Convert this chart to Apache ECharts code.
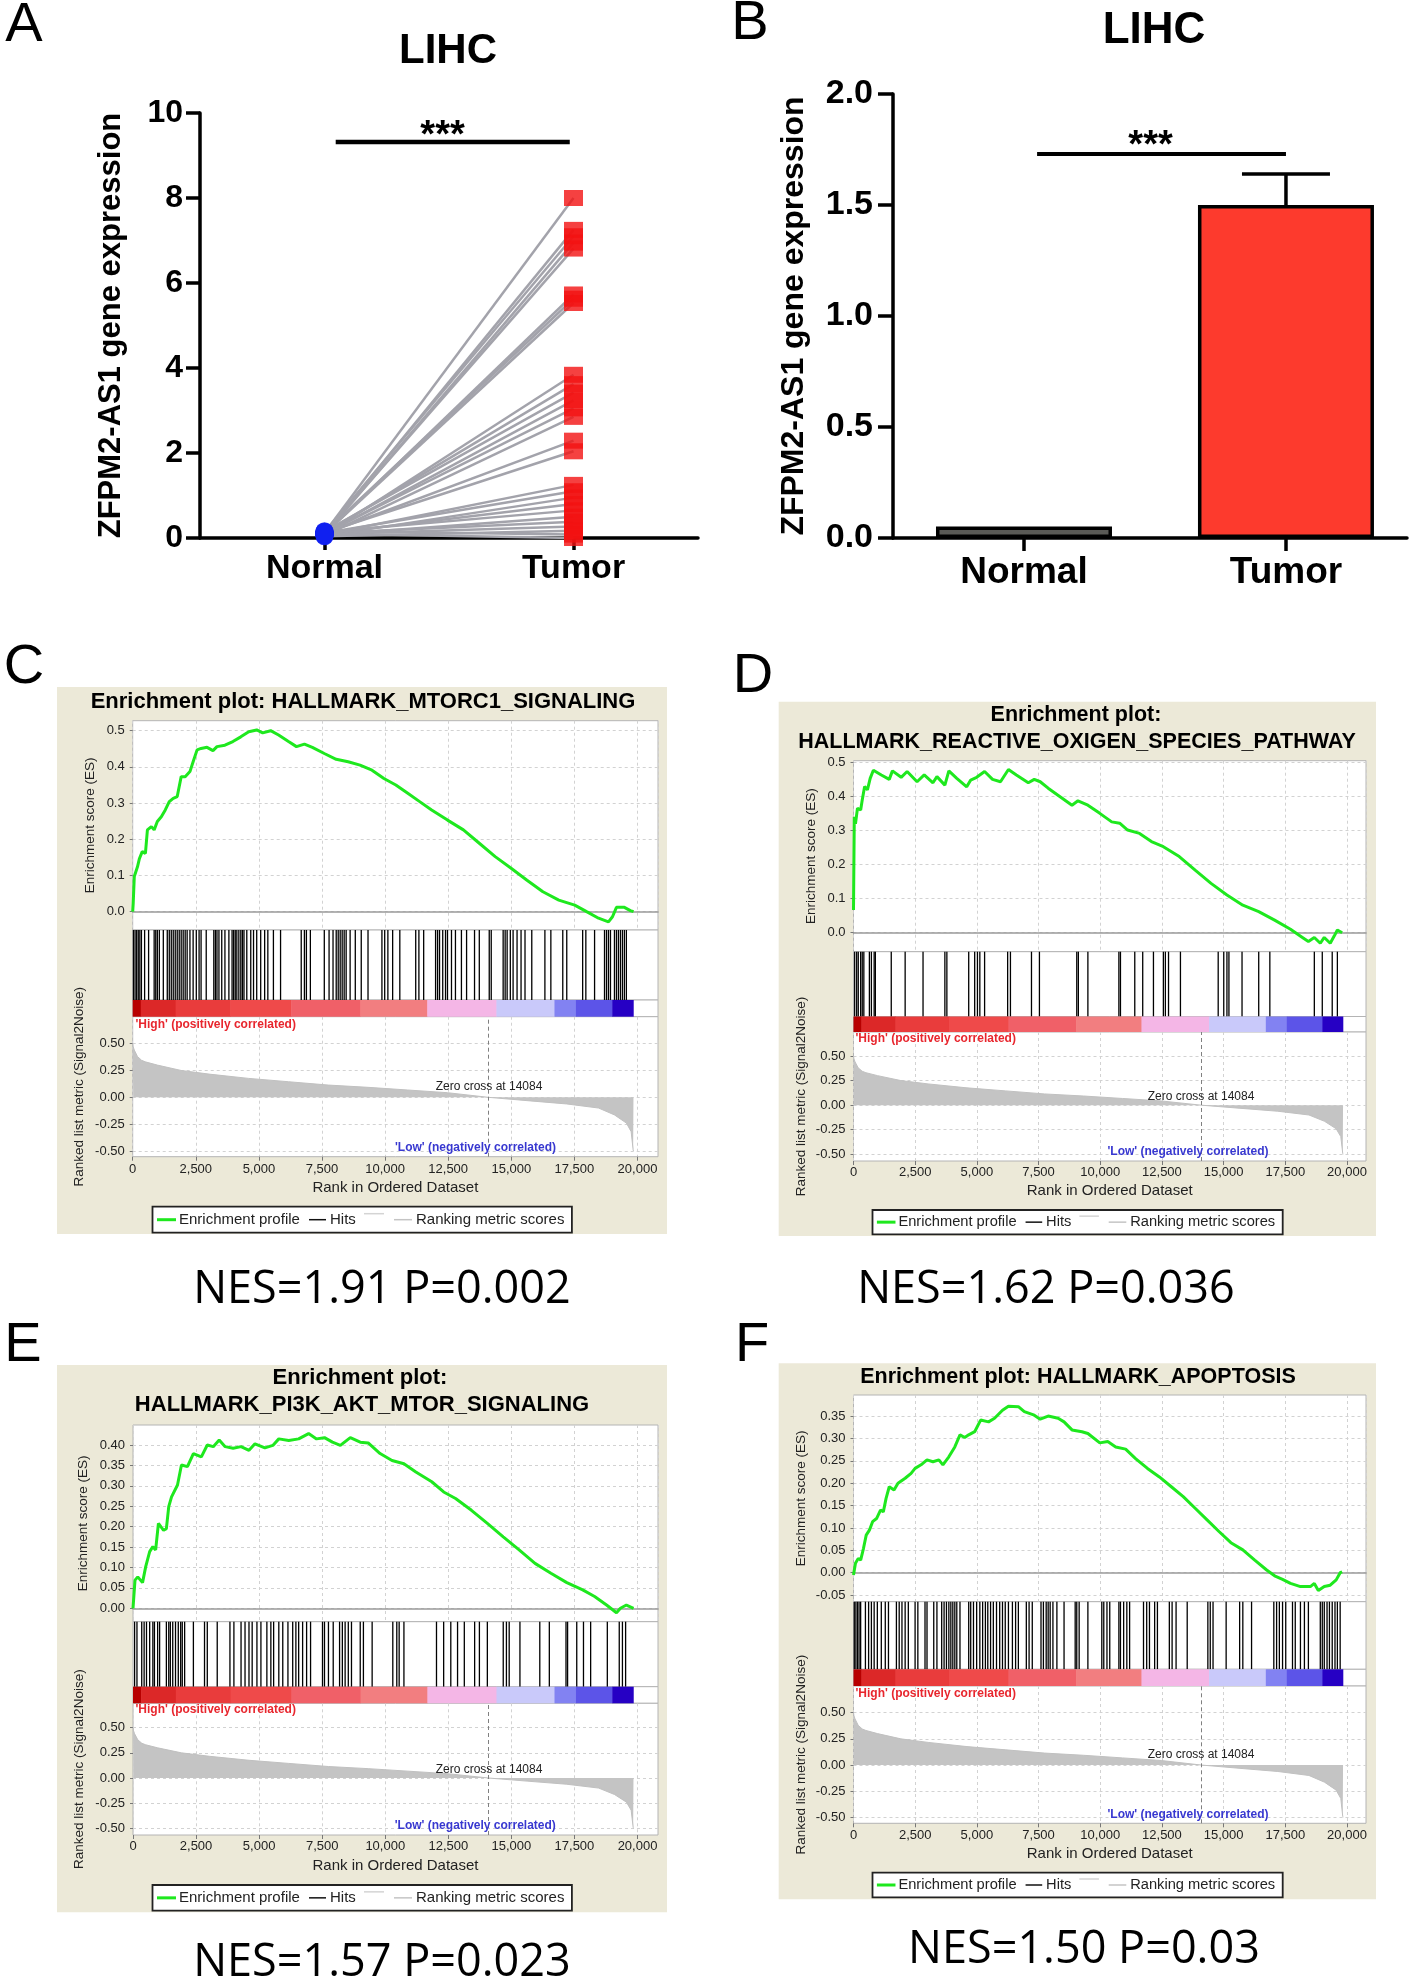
<!DOCTYPE html>
<html><head><meta charset="utf-8">
<script src="https://cdn.jsdelivr.net/npm/echarts@6/dist/echarts.min.js"></script>
<style>html,body{margin:0;padding:0;background:#fff}#c{width:1418px;height:1982px}</style>
</head><body><div id="c"></div>
<script>
// ================= DATA =================
const groups = ['Normal', 'Tumor'];
const pairedNormal = [0.12,0.10,0.14,0.08,0.11,0.09,0.13,0.10,0.07,0.12,0.15,0.09,0.11,0.06,0.10,0.13,0.08,0.12,0.05,0.10,0.14,0.07,0.11,0.09,0.04,0.16,0.10];
const pairedTumor  = [8.00,7.25,7.10,6.95,6.81,5.73,5.63,5.53,3.84,3.62,3.42,3.24,3.05,2.85,2.29,2.04,1.25,1.10,0.95,0.80,0.65,0.50,0.38,0.27,0.17,0.08,0.00];
const barMean = [0.052, 1.50];
const barSEM  = [0.004, 0.14];
const sigStars = '***';
const panelTitleAB = 'LIHC';
const yTitleAB = 'ZFPM2-AS1 gene expression';
const panelLetters = ['A','B','C','D','E','F'];

const gseaTitles = {
  C: ['Enrichment plot: HALLMARK_MTORC1_SIGNALING'],
  D: ['Enrichment plot:', 'HALLMARK_REACTIVE_OXIGEN_SPECIES_PATHWAY'],
  E: ['Enrichment plot:', 'HALLMARK_PI3K_AKT_MTOR_SIGNALING'],
  F: ['Enrichment plot: HALLMARK_APOPTOSIS']
};
const nesText = {C:'NES=1.91 P=0.002', D:'NES=1.62 P=0.036', E:'NES=1.57 P=0.023', F:'NES=1.50 P=0.03'};
const esTicks = {
  C:[0,0.1,0.2,0.3,0.4,0.5], D:[0,0.1,0.2,0.3,0.4,0.5],
  E:[0,0.05,0.10,0.15,0.20,0.25,0.30,0.35,0.40],
  F:[-0.05,0,0.05,0.10,0.15,0.20,0.25,0.30,0.35]
};
const esDecimals = {C:1, D:1, E:2, F:2};
const rankTicks = [0,2500,5000,7500,10000,12500,15000,17500,20000];
const metricTicks = [-0.5,-0.25,0,0.25,0.5];
const zeroCross = 14084;
const legendLabels = ['Enrichment profile','Hits','Ranking metric scores'];
const highLabel = "'High' (positively correlated)";
const lowLabel = "'Low' (negatively correlated)";
const esTitle = 'Enrichment score (ES)';
const rkTitle = 'Ranked list metric (Signal2Noise)';
const rankTitle = 'Rank in Ordered Dataset';

const esC = [[0,0.0],[20,0.023],[63,0.097],[189,0.124],[268,0.147],[378,0.166],[504,0.161],[583,0.226],[740,0.235],[850,0.226],[976,0.249],[1134,0.262],[1291,0.281],[1449,0.304],[1606,0.313],[1764,0.318],[1921,0.373],[2079,0.373],[2268,0.387],[2394,0.414],[2551,0.447],[2709,0.451],[2945,0.454],[3181,0.445],[3339,0.456],[3654,0.46],[3969,0.47],[4283,0.483],[4598,0.497],[4913,0.502],[5150,0.494],[5465,0.5],[5780,0.488],[6173,0.47],[6488,0.456],[6803,0.463],[7118,0.454],[7591,0.437],[8063,0.421],[8535,0.414],[9008,0.405],[9480,0.391],[9953,0.368],[10425,0.35],[10898,0.327],[11370,0.304],[11843,0.281],[12472,0.253],[13102,0.226],[13732,0.189],[14362,0.152],[14992,0.12],[15622,0.087],[16252,0.055],[16882,0.032],[17512,0.018],[17984,0.0],[18457,-0.018],[18850,-0.028],[19008,-0.014],[19166,0.012],[19480,0.012],[19717,0.003],[19843,0.0]];
const esD = [[0,0.067],[32,0.341],[80,0.32],[161,0.366],[290,0.361],[354,0.39],[451,0.43],[564,0.42],[676,0.454],[805,0.478],[1127,0.464],[1449,0.451],[1578,0.476],[1932,0.457],[2173,0.474],[2576,0.444],[2866,0.464],[3220,0.441],[3381,0.459],[3703,0.434],[3864,0.476],[4186,0.454],[4589,0.429],[4750,0.449],[4991,0.457],[5313,0.474],[5635,0.451],[5957,0.444],[6279,0.48],[6601,0.464],[7084,0.441],[7326,0.451],[7567,0.444],[7889,0.425],[8372,0.4],[8855,0.375],[9097,0.388],[9499,0.375],[9982,0.351],[10465,0.326],[10787,0.322],[11109,0.302],[11592,0.292],[12075,0.268],[12558,0.253],[13202,0.224],[13846,0.184],[14490,0.145],[15134,0.111],[15778,0.081],[16422,0.062],[17066,0.037],[17710,0.01],[18193,-0.014],[18435,-0.026],[18676,-0.014],[18918,-0.031],[19078,-0.014],[19320,-0.031],[19481,-0.01],[19610,0.008],[19803,0.0]];
const esE = [[0,0],[31,0],[79,0.069],[189,0.077],[378,0.063],[504,0.102],[583,0.098],[661,0.139],[787,0.151],[898,0.143],[1008,0.208],[1213,0.191],[1323,0.195],[1417,0.249],[1528,0.273],[1764,0.302],[1921,0.351],[2157,0.347],[2394,0.379],[2709,0.371],[2945,0.4],[3181,0.396],[3417,0.412],[3654,0.396],[3969,0.392],[4283,0.396],[4598,0.387],[4835,0.403],[5228,0.393],[5543,0.399],[5780,0.415],[6173,0.411],[6567,0.415],[6961,0.428],[7276,0.415],[7591,0.418],[7906,0.407],[8220,0.399],[8614,0.418],[9008,0.407],[9323,0.405],[9795,0.379],[10268,0.362],[10740,0.354],[11213,0.334],[11843,0.31],[12315,0.285],[12787,0.269],[13417,0.24],[14047,0.208],[14677,0.175],[15307,0.143],[15937,0.11],[16567,0.086],[17197,0.063],[17827,0.045],[18299,0.029],[18772,0.008],[19166,-0.011],[19323,0.0],[19559,0.008],[19843,0.0]];
const esF = [[0,-0.005],[80,0.021],[193,0.032],[290,0.028],[403,0.054],[515,0.084],[644,0.095],[773,0.114],[934,0.121],[1095,0.14],[1208,0.136],[1320,0.166],[1449,0.192],[1642,0.185],[1803,0.2],[2093,0.211],[2334,0.222],[2495,0.233],[2737,0.241],[2978,0.252],[3220,0.248],[3461,0.252],[3623,0.241],[3864,0.259],[4106,0.281],[4315,0.308],[4508,0.302],[4669,0.308],[4911,0.315],[5152,0.341],[5474,0.337],[5716,0.345],[6038,0.363],[6279,0.372],[6682,0.371],[6923,0.36],[7326,0.352],[7567,0.343],[7889,0.35],[8292,0.345],[8533,0.337],[8855,0.319],[9258,0.315],[9499,0.311],[9982,0.29],[10304,0.293],[10626,0.281],[11029,0.276],[11431,0.255],[11914,0.233],[12397,0.214],[12880,0.192],[13363,0.17],[13846,0.144],[14329,0.118],[14812,0.092],[15295,0.067],[15778,0.051],[16261,0.028],[16744,0.006],[17066,-0.007],[17388,-0.015],[17710,-0.024],[18113,-0.031],[18515,-0.031],[18676,-0.024],[18837,-0.04],[19078,-0.031],[19320,-0.028],[19562,-0.016],[19723,0.0],[19803,0.002]];

const hitsC = [31,94,157,220,283,346,472,630,850,913,976,1055,1213,1370,1449,1528,1606,1685,1764,1843,1921,2000,2079,2157,2268,2394,2520,2630,2709,2913,3213,3276,3339,3417,3528,3654,3811,3937,4000,4063,4126,4205,4283,4346,4409,4520,4677,4787,4913,5071,5228,5354,5575,5858,6677,6803,6882,7039,7591,7780,7937,8063,8142,8220,8299,8378,8457,8614,8819,9055,9323,9874,9984,10110,10299,10583,11213,11339,11528,12000,12079,12157,12283,12394,12472,12630,12787,13024,13228,13543,13732,14126,14205,14677,14756,14835,14961,15071,15228,15386,15543,15811,16331,16567,17039,17197,17827,17953,18299,18693,18772,18850,18929,19087,19166,19244,19323,19402,19480,19559];
const hitsD = [48,129,193,290,354,419,644,725,837,886,1530,2093,2818,3703,3784,4669,4911,5023,5120,5313,6247,6360,7213,7535,9048,9113,9499,10755,10819,11399,11721,12156,12558,12639,12767,13250,14780,15005,15134,15215,15746,16422,16873,18676,18998,19401,19610];
const hitsE = [63,157,346,441,535,661,787,850,976,1055,1323,1417,1480,1575,1685,1795,1890,1953,2047,2394,2835,2945,3339,3843,4000,4283,4441,4598,4724,4913,5071,5307,5465,5575,5780,5937,6142,6331,6457,6567,6724,6882,7039,7512,7591,7748,7937,8189,8299,8409,8535,8661,9008,9134,9480,10299,10457,10551,10740,12031,12315,12598,12866,13134,13543,13732,14047,14677,14803,14913,15339,16126,16504,17165,17228,17591,17858,18142,18803,19276,19402,19528];
const hitsF = [32,97,161,225,290,483,612,725,837,966,1127,1288,1417,1739,1852,1964,2093,2222,2496,2608,2898,2979,3252,3381,3574,3671,3767,3864,3945,4025,4106,4186,4315,4669,4750,4862,4991,5120,5233,5345,5442,5555,5667,5796,5925,6038,6150,6279,6440,6569,6682,7004,7116,7245,7599,7696,7809,7889,7970,8082,8243,8533,8984,9048,9145,9499,10063,10143,10272,10385,10755,10819,10948,11077,11190,11753,11882,11995,12204,12317,12800,12912,13073,13524,14361,14458,14571,15102,15649,15778,16132,17034,17147,17259,17388,17517,17791,17903,18113,18274,18435,18918,18998,19079,19191,19288,19401,19513,19610,19723];

const rankedMetric = [[0,0.50],[20,0.47],[63,0.44],[189,0.38],[350,0.345],[504,0.33],[976,0.30],[1921,0.25],[3024,0.216],[4598,0.176],[6173,0.145],[7748,0.114],[9323,0.093],[10898,0.068],[12472,0.043],[14084,0.0],[15622,-0.031],[17197,-0.062],[18457,-0.10],[19087,-0.164],[19560,-0.24],[19748,-0.32],[19827,-0.49],[19840,-0.50]];
const colorBarStart = [0,320,1700,3870,6280,9020,11670,14410,16710,17560,19000];
const colorBarEnd   = [320,1700,3870,6280,9020,11670,14410,16710,17560,19000,19830];
const colorBarLevel = [0,1,2,3,4,5,6,7,8,9,10];

// ================= STYLE / LAYOUT =================
const FONT = '"Liberation Sans", Arial, Helvetica, sans-serif';
const cbPalette = ['#b80000','#dc2828','#e93c3c','#ef4a4a','#f06068','#f27e80','#f4b6e6','#c9c9fa','#8282f2','#5c54e8','#2600c4'];
const GREEN = '#1ee81e';
const BEIGE = '#ece9d8';

const gseaLayout = {
  C:{bg:[57,687,610,547], left:132.7, right:658, es:[720.7,930], hits:[930,1000], cb:[1000,1016.7], rk:[1016.7,1156.7],
     esRange:[-0.0506,0.5276], rkRange:[-0.553,0.7505], xMax:20812, title:[[363,701.7]], titleSize:22,
     legend:[152.5,1206.7,419.4,26], nes:[382,1290], zero:[489,1087], high:[135.5,1024.3], low:[475.5,1147.7],
     esGap:35, rkGap:46, xLabelMargin:6, xNameGap:24, hits_data:hitsC, es_data:esC},
  D:{bg:[778.7,701.7,597.3,534.3], left:853.5, right:1366, es:[760.7,951.7], hits:[951.7,1016.5], cb:[1016.5,1032], rk:[1032,1161],
     esRange:[-0.0559,0.5059], rkRange:[-0.568,0.744], xMax:20770, title:[[1076,715],[1077,741.7]], titleSize:21.5,
     legend:[872.5,1210,410.2,24.3], nes:[1046,1290], zero:[1201,1096.7], high:[855.5,1038.3], low:[1188,1151.7],
     esGap:35, rkGap:45, xLabelMargin:5, xNameGap:22.5, hits_data:hitsD, es_data:esD},
  E:{bg:[57,1365,610,547.3], left:133, right:658, es:[1425,1621.7], hits:[1621.7,1686.7], cb:[1686.7,1703.3], rk:[1703.3,1835],
     esRange:[-0.0328,0.449], rkRange:[-0.5666,0.7425], xMax:20812, title:[[360,1378.3],[362,1405]], titleSize:22,
     legend:[152.5,1885,419.4,25.7], nes:[382,1963], zero:[489,1769.3], high:[135.5,1709.3], low:[475.3,1825.7],
     esGap:43, rkGap:46.5, xLabelMargin:5, xNameGap:23.5, hits_data:hitsE, es_data:esE},
  F:{bg:[778.7,1363.3,597.3,536], left:853.5, right:1366, es:[1395,1601.7], hits:[1601.7,1669.3], cb:[1669.3,1686], rk:[1686,1823.3],
     esRange:[-0.0648,0.397], rkRange:[-0.557,0.755], xMax:20770, title:[[1078,1376.7]], titleSize:21.5,
     legend:[872.5,1872.7,410.2,24.6], nes:[1084,1950], zero:[1201,1755], high:[855.5,1693.3], low:[1188,1814.3],
     esGap:45, rkGap:45.5, xLabelMargin:6, xNameGap:23, hits_data:hitsF, es_data:esF}
};
const letterPos = [[24,26],[750,24],[24,668],[753,677],[23,1346],[752,1346]];

// ================= BUILD =================
const grids = [], xAxes = [], yAxes = [], series = [], gfx = [];
function addGrid(left, top, width, height, extra) {
  grids.push(Object.assign({left, top, width, height, containLabel:false, outerBoundsMode:'none'}, extra || {}));
  return grids.length - 1;
}
function txt(text, x, y, o) {
  const align = o.align || 'center', valign = o.valign || 'middle';
  return {type:'text', x, y, z: o.z || 100, silent:true,
    style:{text, fill:o.color || '#000', fontSize:o.size, fontWeight:o.weight || 'normal', fontFamily:o.family || FONT,
      align, verticalAlign:valign, textAlign:align, textVerticalAlign:valign}};
}
function hline(x1, x2, y, color, w) {
  return {type:'line', silent:true, z:101, shape:{x1, y1:y, x2, y2:y}, style:{stroke:color, lineWidth:w}};
}
const blackAxis = {color:'#000', width:3.5};

// ---------- Panel A ----------
const gA = addGrid(200, 113, 498, 425);
xAxes.push({gridIndex:gA, type:'value', min:-0.5, max:1.5,
  axisLine:{show:true, onZero:false, lineStyle:blackAxis},
  axisTick:{show:true, customValues:[0,1], length:12, lineStyle:blackAxis},
  axisLabel:{customValues:[0,1], formatter:v => groups[Math.round(v)], fontSize:34, fontWeight:'bold', color:'#000', margin:14, fontFamily:FONT},
  splitLine:{show:false}});
yAxes.push({gridIndex:gA, type:'value', min:0, max:10, interval:2,
  axisLine:{show:true, onZero:false, lineStyle:blackAxis},
  axisTick:{show:true, length:14, lineStyle:blackAxis},
  axisLabel:{fontSize:32, fontWeight:'bold', color:'#000', margin:17, fontFamily:FONT},
  splitLine:{show:false},
  name:yTitleAB, nameLocation:'middle', nameGap:73.5,
  nameTextStyle:{fontSize:31, fontWeight:'bold', color:'#000', fontFamily:FONT}});
pairedNormal.forEach((n, i) => {
  series.push({type:'line', xAxisIndex:gA, yAxisIndex:gA, data:[[0, n],[1, pairedTumor[i]]], symbol:'none', silent:true,
    lineStyle:{color:'#a3a3ab', width:2.5}, z:2});
});
series.push({type:'scatter', xAxisIndex:gA, yAxisIndex:gA, data:pairedNormal.map(v => [0, v]), symbol:'circle', symbolSize:18,
  itemStyle:{color:'#1020f0'}, z:4});
series.push({type:'scatter', xAxisIndex:gA, yAxisIndex:gA, data:pairedTumor.map(v => [1, v]), symbol:'rect', symbolSize:[19,16],
  itemStyle:{color:'#f21212'}, z:5});

function sigSeries(gi, d, lw, textDy) {
  return {type:'custom', xAxisIndex:gi, yAxisIndex:gi, data:[d], encode:{x:[0,1,3], y:[2,4]}, z:6, silent:true,
    renderItem:(p, api) => {
      const a = api.coord([api.value(0), api.value(2)]);
      const b = api.coord([api.value(1), api.value(2)]);
      const s = api.coord([api.value(3), api.value(4)]);
      return {type:'group', children:[
        {type:'line', shape:{x1:a[0], y1:a[1], x2:b[0], y2:b[1]}, style:{stroke:'#000', lineWidth:lw}},
        {type:'text', x:s[0], y:s[1] + textDy, style:{text:sigStars, fill:'#000', fontSize:38, fontWeight:'bold', fontFamily:FONT, align:'center', verticalAlign:'middle'}}
      ]};
    }};
}
// bracket: [x0, x1, y, starX, starY]
series.push(sigSeries(gA, [0.045, 0.985, 9.32, 0.474, 9.65], 4.5, 8.7));

// ---------- Panel B ----------
const gB = addGrid(893, 94, 514, 444);
xAxes.push({gridIndex:gB, type:'value', min:-0.5, max:1.462,
  axisLine:{show:true, onZero:false, lineStyle:blackAxis},
  axisTick:{show:true, customValues:[0,1], length:13, lineStyle:blackAxis},
  axisLabel:{customValues:[0,1], formatter:v => groups[Math.round(v)], fontSize:37, fontWeight:'bold', color:'#000', margin:16.5, fontFamily:FONT},
  splitLine:{show:false}});
yAxes.push({gridIndex:gB, type:'value', min:0, max:2, interval:0.5,
  axisLine:{show:true, onZero:false, lineStyle:blackAxis},
  axisTick:{show:true, length:15, lineStyle:blackAxis},
  axisLabel:{formatter:v => v.toFixed(1), fontSize:34, fontWeight:'bold', color:'#000', margin:20, fontFamily:FONT},
  splitLine:{show:false},
  name:yTitleAB, nameLocation:'middle', nameGap:82.5,
  nameTextStyle:{fontSize:32, fontWeight:'bold', color:'#000', fontFamily:FONT}});
const barColors = ['#5a5a56', '#fd3a2d'];
series.push({type:'bar', xAxisIndex:gB, yAxisIndex:gB, barWidth:176,
  data:barMean.map((m, i) => ({value:[i, m], itemStyle:{color:barColors[i]}})),
  itemStyle:{borderColor:'#000', borderWidth:3.5}, z:2});
series.push({type:'custom', xAxisIndex:gB, yAxisIndex:gB, z:3, silent:true,
  data:barMean.map((m, i) => [i, m, m + barSEM[i]]), encode:{x:0, y:[1,2]},
  renderItem:(p, api) => {
    const lo = api.coord([api.value(0), api.value(1)]);
    const hi = api.coord([api.value(0), api.value(2)]);
    if (lo[1] - hi[1] < 3) return null;
    return {type:'group', children:[
      {type:'line', shape:{x1:lo[0], y1:lo[1], x2:hi[0], y2:hi[1]}, style:{stroke:'#000', lineWidth:3.5}},
      {type:'line', shape:{x1:hi[0]-44, y1:hi[1], x2:hi[0]+44, y2:hi[1]}, style:{stroke:'#000', lineWidth:3.5}}
    ]};
  }});
series.push(sigSeries(gB, [0.05, 1.0, 1.73, 0.483, 1.804], 4, 8.7));

// ---------- GSEA panels ----------
const dashed = {color:'#d2d2d2', type:[3,3], width:1};
function addGSEA(key) {
  const L = gseaLayout[key];
  const W = L.right - L.left;
  const frame = {show:true, backgroundColor:'#fff', borderColor:'#b4b4b4', borderWidth:1};
  const gEs = addGrid(L.left, L.es[0], W, L.es[1] - L.es[0], frame);
  const gHits = addGrid(L.left, L.hits[0], W, L.hits[1] - L.hits[0], frame);
  const gCb = addGrid(L.left, L.cb[0], W, L.cb[1] - L.cb[0], frame);
  const gRk = addGrid(L.left, L.rk[0], W, L.rk[1] - L.rk[0], frame);
  const dec = esDecimals[key];

  // ES
  xAxes.push({gridIndex:gEs, type:'value', min:0, max:L.xMax, interval:2500,
    axisLine:{show:true, onZero:true, lineStyle:{color:'#9a9a9a', width:1.5}},
    axisTick:{show:false}, axisLabel:{show:false}, splitLine:{show:true, lineStyle:dashed}});
  yAxes.push({gridIndex:gEs, type:'value', min:L.esRange[0], max:L.esRange[1],
    axisLine:{show:false, onZero:false},
    axisTick:{show:true, customValues:esTicks[key], length:3, lineStyle:{color:'#777'}},
    axisLabel:{customValues:esTicks[key], formatter:v => v.toFixed(dec), fontSize:13, color:'#222', margin:8, fontFamily:FONT},
    splitLine:{show:true, lineStyle:dashed},
    name:esTitle, nameLocation:'middle', nameGap:L.esGap, nameTextStyle:{fontSize:13.5, color:'#222', fontFamily:FONT}});
  series.push({type:'line', xAxisIndex:gEs, yAxisIndex:gEs, data:L.es_data, symbol:'none', silent:true,
    lineStyle:{color:GREEN, width:3}, z:3});

  // Hits
  xAxes.push({gridIndex:gHits, type:'value', min:0, max:L.xMax, show:false});
  yAxes.push({gridIndex:gHits, type:'value', min:0, max:1, show:false});
  series.push({type:'custom', xAxisIndex:gHits, yAxisIndex:gHits, silent:true, z:3,
    data:L.hits_data.map(r => [r, 1]), encode:{x:0, y:1},
    renderItem:(p, api) => {
      const t = api.coord([api.value(0), 1]);
      const b = api.coord([api.value(0), 0]);
      return {type:'line', shape:{x1:t[0], y1:t[1], x2:b[0], y2:b[1]}, style:{stroke:'#000', lineWidth:1.3}};
    }});

  // Color bar
  xAxes.push({gridIndex:gCb, type:'value', min:0, max:L.xMax, show:false});
  yAxes.push({gridIndex:gCb, type:'value', min:0, max:1, show:false});
  series.push({type:'custom', xAxisIndex:gCb, yAxisIndex:gCb, silent:true, z:3,
    data:colorBarStart.map((s, i) => [s, colorBarEnd[i], colorBarLevel[i]]), encode:{x:[0,1]},
    renderItem:(p, api) => {
      const a = api.coord([api.value(0), 1]);
      const b = api.coord([api.value(1), 0]);
      return {type:'rect', shape:{x:a[0], y:a[1], width:b[0] - a[0] + 0.5, height:b[1] - a[1]},
        style:{fill:cbPalette[api.value(2)]}};
    }});

  // Ranked list
  xAxes.push({gridIndex:gRk, type:'value', min:0, max:L.xMax, interval:2500,
    axisLine:{show:false, onZero:false},
    axisTick:{show:true, customValues:rankTicks, length:4, lineStyle:{color:'#777'}},
    axisLabel:{customValues:rankTicks, formatter:v => v.toLocaleString('en-US'), fontSize:13, color:'#222', margin:L.xLabelMargin, fontFamily:FONT},
    splitLine:{show:true, lineStyle:dashed},
    name:rankTitle, nameLocation:'middle', nameGap:L.xNameGap, nameTextStyle:{fontSize:15, color:'#222', fontFamily:FONT}});
  yAxes.push({gridIndex:gRk, type:'value', min:L.rkRange[0], max:L.rkRange[1],
    axisLine:{show:false, onZero:false},
    axisTick:{show:true, customValues:metricTicks, length:3, lineStyle:{color:'#777'}},
    axisLabel:{customValues:metricTicks, formatter:v => v.toFixed(2), fontSize:13, color:'#222', margin:8, fontFamily:FONT},
    splitLine:{show:true, lineStyle:dashed},
    name:rkTitle, nameLocation:'middle', nameGap:L.rkGap, nameTextStyle:{fontSize:13.5, color:'#222', fontFamily:FONT}});
  series.push({type:'line', xAxisIndex:gRk, yAxisIndex:gRk, data:rankedMetric, symbol:'none', silent:true,
    lineStyle:{color:'#c0c0c0', width:1}, areaStyle:{color:'#c4c4c4', opacity:1}, z:2,
    markLine:{symbol:'none', silent:true, label:{show:false}, lineStyle:{color:'#808080', type:[4,3], width:1},
      data:[{xAxis:zeroCross}]}});

  // Graphics: background, titles, annotations, legend, NES
  gfx.push({type:'rect', z:-5, silent:true, shape:{x:L.bg[0], y:L.bg[1], width:L.bg[2], height:L.bg[3]}, style:{fill:BEIGE}});
  gseaTitles[key].forEach((t, i) => gfx.push(txt(t, L.title[i][0], L.title[i][1], {size:L.titleSize, weight:'bold'})));
  gfx.push(txt(highLabel, L.high[0], L.high[1], {size:12, weight:'bold', color:'#e8262e', align:'left'}));
  gfx.push(txt(lowLabel, L.low[0], L.low[1], {size:12, weight:'bold', color:'#3838d0'}));
  gfx.push(txt('Zero cross at ' + zeroCross, L.zero[0], L.zero[1], {size:12, color:'#222'}));
  const [lx, ly, lw, lh] = L.legend; const s = lw / 419.4, cy = ly + lh / 2, fs = 15 * s;
  gfx.push({type:'rect', z:99, silent:true, shape:{x:lx, y:ly, width:lw, height:lh}, style:{fill:'#fff', stroke:'#222', lineWidth:1.8}});
  gfx.push(hline(lx + 4.5*s, lx + 23.5*s, cy, GREEN, 3));
  gfx.push(txt(legendLabels[0], lx + 26.5*s, cy, {size:fs, color:'#222', align:'left'}));
  gfx.push(hline(lx + 156.5*s, lx + 173.5*s, cy, '#111', 1.5));
  gfx.push(txt(legendLabels[1], lx + 177.5*s, cy, {size:fs, color:'#222', align:'left'}));
  gfx.push(hline(lx + 211.5*s, lx + 231.5*s, cy - 6, '#d4d4d4', 1.5));
  gfx.push(hline(lx + 241.5*s, lx + 259.5*s, cy, '#c4c4c4', 1.5));
  gfx.push(txt(legendLabels[2], lx + 263.5*s, cy, {size:fs, color:'#222', align:'left'}));
  gfx.push(txt(nesText[key], L.nes[0], L.nes[1], {size:45, family:'"Open Sans", "Liberation Sans", sans-serif', color:'#000'}));
}
['C','D','E','F'].forEach(addGSEA);

// Panel titles / letters
gfx.push(txt(panelTitleAB, 448, 51.5, {size:42, weight:'bold'}));
gfx.push(txt(panelTitleAB, 1154, 30.6, {size:44, weight:'bold'}));
panelLetters.forEach((l, i) => gfx.push(txt(l, letterPos[i][0], letterPos[i][1], {size:56})));

const chart = echarts.init(document.getElementById('c'), null, {renderer:'canvas', width:1418, height:1982});
chart.setOption({
  animation:false,
  backgroundColor:'#fff',
  grid:grids, xAxis:xAxes, yAxis:yAxes, series:series,
  graphic:{elements:gfx}
});
</script>
</body></html>
